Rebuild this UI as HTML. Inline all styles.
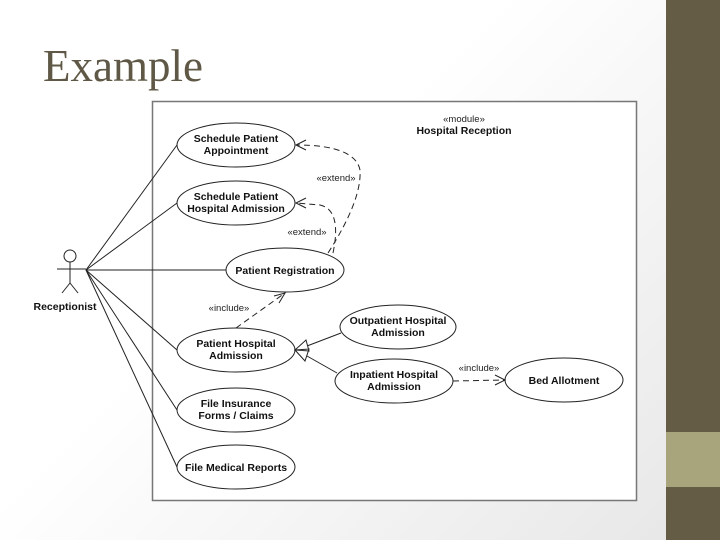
<!DOCTYPE html>
<html><head><style>
body{margin:0;width:720px;height:540px;overflow:hidden;background:linear-gradient(135deg,#fff 40%,#e6e6e6);position:relative;font-family:"Liberation Sans",sans-serif}
.t{position:absolute;left:43px;top:41px;font-family:"Liberation Serif",serif;font-size:45px;color:#5f5846;line-height:50px}
.sb{position:absolute;left:666px;top:0;width:54px;height:540px;background:#655c45}
.sb2{position:absolute;left:666px;top:432px;width:54px;height:55px;background:#a8a47c}
</style></head><body>
<div class="t">Example</div>
<div class="sb"></div><div class="sb2"></div>
<svg width="720" height="540" style="position:absolute;left:0;top:0" font-family="Liberation Sans, sans-serif" font-size="10.5" text-anchor="middle">
<rect x="152.5" y="101.5" width="484" height="399" fill="#fff" stroke="#777" stroke-width="1.5"/>
<g stroke="#222" fill="none" stroke-width="1">
<circle cx="70" cy="256" r="6"/>
<line x1="70" y1="262" x2="70" y2="283"/><line x1="57" y1="269" x2="86" y2="269"/>
<line x1="70" y1="283" x2="62" y2="293"/><line x1="70" y1="283" x2="78" y2="293"/>
<line x1="86" y1="270" x2="177" y2="145"/><line x1="86" y1="270" x2="177" y2="203"/>
<line x1="86" y1="270" x2="226" y2="270"/><line x1="86" y1="270" x2="177" y2="350"/>
<line x1="86" y1="270" x2="177" y2="410"/><line x1="86" y1="270" x2="177" y2="467"/>
<ellipse cx="236" cy="145" rx="59" ry="22"/><ellipse cx="236" cy="203" rx="59" ry="22"/>
<ellipse cx="285" cy="270" rx="59" ry="22"/><ellipse cx="236" cy="350" rx="59" ry="22"/>
<ellipse cx="398" cy="327" rx="58" ry="22"/><ellipse cx="394" cy="381" rx="59" ry="22"/>
<ellipse cx="564" cy="380" rx="59" ry="22"/><ellipse cx="236" cy="410" rx="59" ry="22"/>
<ellipse cx="236" cy="467" rx="59" ry="22"/>
<g stroke-dasharray="6,4">
<path d="M328 253 Q362 200 360 170 Q355 145 296 145"/>
<path d="M333 253 Q342 210 320 205 L296 203"/>
<path d="M236 328 L285 293"/>
<path d="M453 381 L505 380"/>
</g>
<path d="M306 140 L296 145 L306 150 M306 198 L296 203 L306 208 M274 296 L285 293 L279 303 M495 375 L505 380 L495 385"/>
<line x1="341" y1="333" x2="307" y2="346"/><line x1="337" y1="373" x2="307" y2="356"/>
<path d="M295 350 L306 340 L309 351 Z M295 350 L309 349 L305 361 Z" fill="#fff"/>
</g>
<g font-weight="bold" fill="#111">
<text x="236" y="142">Schedule Patient</text><text x="236" y="154">Appointment</text>
<text x="236" y="200">Schedule Patient</text><text x="236" y="212">Hospital Admission</text>
<text x="285" y="274">Patient Registration</text>
<text x="236" y="347">Patient Hospital</text><text x="236" y="359">Admission</text>
<text x="398" y="324">Outpatient Hospital</text><text x="398" y="336">Admission</text>
<text x="394" y="378">Inpatient Hospital</text><text x="394" y="390">Admission</text>
<text x="564" y="384">Bed Allotment</text>
<text x="236" y="407">File Insurance</text><text x="236" y="419">Forms / Claims</text>
<text x="236" y="471">File Medical Reports</text>
<text x="65" y="310">Receptionist</text>
<text x="464" y="134">Hospital Reception</text>
</g>
<g fill="#222" font-size="9.5">
<text x="464" y="122">«module»</text>
<text x="336" y="181">«extend»</text>
<text x="307" y="235">«extend»</text>
<text x="229" y="311">«include»</text>
<text x="479" y="371">«include»</text>
</g>
</svg>
</body></html>
